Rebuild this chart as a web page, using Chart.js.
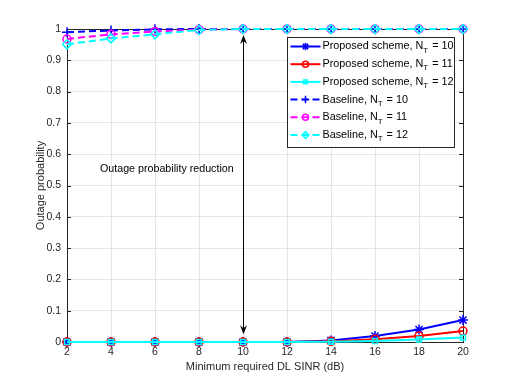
<!DOCTYPE html>
<html>
<head>
<meta charset="utf-8">
<script src="https://cdn.jsdelivr.net/npm/chart.js@4/dist/chart.umd.min.js"></script>
<style>
html,body{margin:0;padding:0;background:#fff;}
#wrap{width:512px;height:384px;}
</style>
</head>
<body>
<div id="wrap"><canvas id="c" width="512" height="384"></canvas></div>
<script>
const sinrDb = [2, 4, 6, 8, 10, 12, 14, 16, 18, 20];
const proposedNT10 = [0, 0, 0, 0, 0, 0, 0.005, 0.019, 0.040, 0.070];
const proposedNT11 = [0, 0, 0, 0, 0, 0, 0.002, 0.009, 0.019, 0.035];
const proposedNT12 = [0, 0, 0, 0, 0, 0, 0.001, 0.003, 0.008, 0.014];
const baselineNT10 = [0.990, 0.995, 0.999, 1, 1, 1, 1, 1, 1, 1];
const baselineNT11 = [0.968, 0.983, 0.992, 0.998, 1, 1, 1, 1, 1, 1];
const baselineNT12 = [0.951, 0.970, 0.983, 0.997, 1, 1, 1, 1, 1, 1];
const yTicks = [0, 0.1, 0.2, 0.3, 0.4, 0.5, 0.6, 0.7, 0.8, 0.9, 1];
const seriesNames = ["Proposed scheme, N", "Proposed scheme, N", "Proposed scheme, N", "Baseline, N", "Baseline, N", "Baseline, N"];
const seriesNT = ["10", "11", "12", "10", "11", "12"];
const annotationText = "Outage probability reduction";
const arrowX = 10, arrowFrom = 0.025, arrowTo = 0.981;
const annotationPos = {x: 3.5, y: 0.553};

const FONT = "'Liberation Sans', Arial, Helvetica, sans-serif";
const styles = [
  {color:'#0000ff', point:'star', r:5, dash:[]},
  {color:'#ff0000', point:'circle', r:4, dash:[]},
  {color:'#00ffff', point:'rect', r:3.5, dash:[]},
  {color:'#0000ff', point:'cross', r:5, dash:[7,4]},
  {color:'#ff00ff', point:'circle', r:4, dash:[7,4]},
  {color:'#00ffff', point:'rectRot', r:4.5, dash:[7,4]}
];
const allData = [proposedNT10, proposedNT11, proposedNT12, baselineNT10, baselineNT11, baselineNT12];

const datasets = allData.map((d, i) => ({
  label: seriesNames[i] + seriesNT[i],
  data: sinrDb.map((x, k) => ({x: x, y: d[k]})),
  borderColor: styles[i].color,
  backgroundColor: 'rgba(0,0,0,0)',
  pointBorderColor: styles[i].color,
  pointBackgroundColor: 'rgba(0,0,0,0)',
  borderWidth: 2,
  pointBorderWidth: 1.5,
  pointStyle: styles[i].point,
  pointRadius: styles[i].r,
  borderDash: styles[i].dash,
  tension: 0,
  clip: false,
  order: 10 - i
}));

function drawMarker(ctx, style, r, x, y, color) {
  ctx.save();
  ctx.strokeStyle = color;
  ctx.fillStyle = 'rgba(0,0,0,0)';
  ctx.lineWidth = 1.5;
  ctx.setLineDash([]);
  Chart.helpers.drawPoint(ctx, {pointStyle: style, radius: r, borderWidth: 1.5}, x, y);
  ctx.restore();
}

const overlay = {
  id: 'overlay',
  beforeDatasetsDraw(chart) {
    const {ctx, chartArea: a, scales: {x, y}} = chart;
    ctx.save();
    ctx.strokeStyle = '#262626';
    ctx.lineWidth = 1;
    ctx.beginPath();
    yTicks.forEach(v => {
      const py = Math.round(y.getPixelForValue(v)) + 0.5;
      ctx.moveTo(a.left, py); ctx.lineTo(a.left + 4, py);
      ctx.moveTo(a.right, py); ctx.lineTo(a.right - 4, py);
    });
    sinrDb.forEach(v => {
      const px = Math.round(x.getPixelForValue(v)) + 0.5;
      ctx.moveTo(px, a.bottom); ctx.lineTo(px, a.bottom - 4);
      ctx.moveTo(px, a.top); ctx.lineTo(px, a.top + 4);
    });
    ctx.stroke();
    ctx.strokeRect(a.left + 0.5, a.top + 0.5, a.right - a.left, a.bottom - a.top);
    ctx.restore();
  },
  afterDatasetsDraw(chart) {
    const {ctx, scales: {x, y}} = chart;
    ctx.save();
    const ax = Math.round(x.getPixelForValue(arrowX)) + 0.5;
    const y1 = y.getPixelForValue(arrowFrom), y2 = y.getPixelForValue(arrowTo);
    ctx.strokeStyle = '#000'; ctx.fillStyle = '#000'; ctx.lineWidth = 1;
    ctx.beginPath(); ctx.moveTo(ax, y1 - 6); ctx.lineTo(ax, y2 + 6); ctx.stroke();
    const head = (tipY, dir) => {
      ctx.beginPath();
      ctx.moveTo(ax, tipY);
      ctx.lineTo(ax - 3.5, tipY - dir * 9);
      ctx.lineTo(ax, tipY - dir * 6);
      ctx.lineTo(ax + 3.5, tipY - dir * 9);
      ctx.closePath(); ctx.fill();
    };
    head(y1, 1); head(y2, -1);
    ctx.font = '10.7px ' + FONT;
    ctx.fillStyle = '#000';
    ctx.textBaseline = 'middle';
    ctx.textAlign = 'left';
    ctx.fillText(annotationText, x.getPixelForValue(annotationPos.x), y.getPixelForValue(annotationPos.y));
    // legend
    const lx = 287.5, ly = 37.5, lw = 167, lh = 110;
    ctx.fillStyle = '#fff';
    ctx.fillRect(lx, ly, lw, lh);
    ctx.strokeStyle = '#262626'; ctx.lineWidth = 1;
    ctx.strokeRect(lx, ly, lw, lh);
    const rowH = 17.7;
    datasets.forEach((ds, i) => {
      const cy = ly + 9 + i * rowH;
      ctx.strokeStyle = ds.borderColor; ctx.lineWidth = 2;
      ctx.setLineDash(ds.borderDash);
      ctx.beginPath(); ctx.moveTo(lx + 3, cy); ctx.lineTo(lx + 33, cy); ctx.stroke();
      ctx.setLineDash([]);
      drawMarker(ctx, ds.pointStyle, ds.pointRadius * 0.75, lx + 18, cy, ds.borderColor);
      ctx.fillStyle = '#000';
      ctx.font = '10.8px ' + FONT;
      ctx.textBaseline = 'middle';
      let tx = lx + 35;
      const main = seriesNames[i];
      ctx.fillText(main, tx, cy);
      tx += ctx.measureText(main).width;
      ctx.font = '8px ' + FONT;
      ctx.fillText('T', tx, cy + 4);
      tx += ctx.measureText('T').width + 1;
      ctx.font = '10.8px ' + FONT;
      ctx.fillText(' = ' + seriesNT[i], tx, cy);
    });
    ctx.restore();
  }
};

new Chart(document.getElementById('c'), {
  type: 'line',
  data: {datasets},
  plugins: [overlay],
  options: {
    responsive: false,
    animation: false,
    devicePixelRatio: 1,
    layout: {padding: {left: 0, right: 49, top: 29, bottom: 0}},
    plugins: {legend: {display: false}, tooltip: {enabled: false}},
    scales: {
      x: {
        type: 'linear', min: 2, max: 20,
        afterBuildTicks(s) { s.ticks = sinrDb.map(v => ({value: v})); },
        afterFit(s) { s.height = 42; },
        grid: {color: '#e6e6e6', drawTicks: false},
        border: {display: false},
        ticks: {padding: 4, color: '#262626', font: {family: FONT, size: 10.5}, maxRotation: 0},
        title: {display: true, text: 'Minimum required DL SINR (dB)', color: '#262626', font: {family: FONT, size: 11}, padding: {top: 0, bottom: 10}}
      },
      y: {
        type: 'linear', min: 0, max: 1,
        afterBuildTicks(s) { s.ticks = yTicks.map(v => ({value: v})); },
        afterFit(s) { s.width = 67; },
        grid: {color: '#e6e6e6', drawTicks: false},
        border: {display: false},
        ticks: {padding: 6, color: '#262626', font: {family: FONT, size: 10.5}, callback: v => String(Math.round(v * 10) / 10)},
        title: {display: true, text: 'Outage probability', color: '#262626', font: {family: FONT, size: 11}, padding: {top: 34, bottom: 0}}
      }
    }
  }
});
</script>
</body>
</html>
